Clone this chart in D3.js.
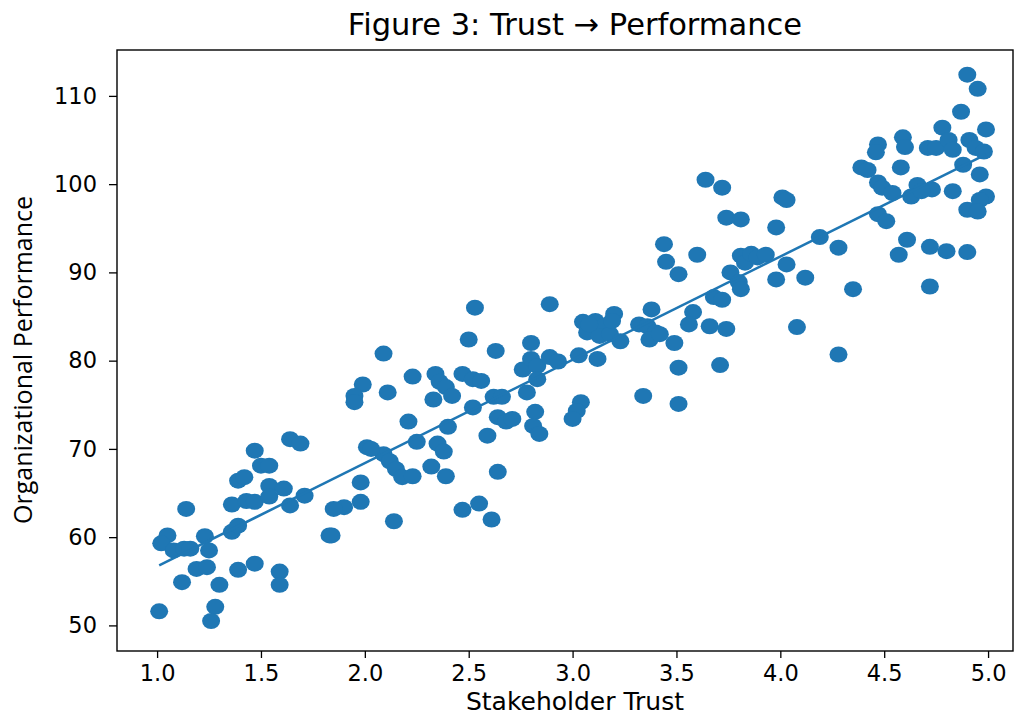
<!DOCTYPE html>
<html>
<head>
<meta charset="utf-8">
<script src="https://cdn.jsdelivr.net/npm/d3@7"></script>
<style>
  body { margin: 0; background: #fff; }
  svg text { font-family: "DejaVu Sans", sans-serif; fill: #000; }
</style>
</head>
<body>
<div id="chart"></div>
<script>
// stakeholder trust (x) and organizational performance (y)
var trust = [
  1.64, 1.69, 1.47, 1.50, 1.54, 1.39, 1.42, 1.14, 1.36, 1.43, 1.47, 1.54, 1.54, 1.61, 1.64, 1.71,
  1.05, 1.02, 1.08, 1.13, 1.16, 1.23, 1.25, 1.36, 1.39, 1.19, 1.24, 1.12, 1.30, 1.39, 1.47, 1.59,
  1.59, 1.01, 1.28, 1.26, 1.83,
  2.53, 2.89, 2.50, 2.63, 2.80, 2.09, 2.23, 2.34, 2.36, 2.39, 2.42, 2.47, 2.52, 2.56, 2.76, 2.80,
  2.83, 2.89, 2.83, 1.99, 1.95, 1.95, 2.11, 2.33, 2.52, 2.62, 2.66, 2.78, 2.21, 2.40, 2.64, 2.68,
  2.71, 2.82, 2.81, 2.84, 2.59, 2.25, 2.35, 2.38, 2.01, 2.09, 2.12, 2.15, 2.18, 2.23, 2.32, 2.39,
  2.64, 1.98, 1.98, 1.90, 1.85, 2.14, 2.47, 2.55, 2.61, 1.84, 2.03,
  3.74, 3.81, 3.44, 3.45, 3.60, 3.51, 3.81, 3.83, 3.86, 3.89, 3.93, 3.76, 3.80, 3.81, 3.68, 3.72,
  3.20, 3.05, 3.11, 3.15, 3.07, 3.13, 3.18, 3.23, 3.08, 3.19, 3.38, 3.32, 3.36, 3.40, 3.37, 3.42,
  3.58, 3.56, 3.66, 3.74, 3.49, 3.03, 3.12, 2.93, 3.51, 3.71, 3.34, 3.51, 3.04, 3.02, 3.00, 3.64,
  3.72,
  4.90, 4.95, 4.87, 4.78, 4.99, 4.47, 4.46, 4.59, 4.60, 4.71, 4.75, 4.81, 4.83, 4.91, 4.94, 4.98,
  4.39, 4.42, 4.58, 4.88, 4.96, 4.47, 4.49, 4.54, 4.66, 4.63, 4.73, 4.68, 4.83, 4.99, 4.96, 4.90,
  4.95, 4.01, 4.03, 3.98, 4.19, 4.28, 4.47, 4.51, 4.61, 4.57, 4.72, 4.80, 4.90, 4.03, 3.98, 4.12,
  4.35, 4.72, 4.08, 4.28
];
var performance = [
  71.1, 70.6, 69.8, 68.1, 68.1, 66.4, 66.8, 63.2, 63.7, 64.1, 64.0, 65.8, 64.6, 65.5, 63.6, 64.7,
  60.2, 59.3, 58.5, 58.7, 58.7, 60.1, 58.5, 60.6, 61.3, 56.4, 56.6, 54.9, 54.6, 56.3, 57.0, 56.1,
  54.6, 51.6, 52.1, 50.5, 60.2,
  86.0, 86.4, 82.4, 81.1, 82.0, 80.8, 78.2, 78.5, 77.6, 77.0, 76.0, 78.5, 77.9, 77.7, 79.0, 80.2,
  79.4, 80.4, 77.9, 77.3, 76.0, 75.3, 76.4, 75.6, 74.7, 75.9, 75.9, 76.4, 73.1, 72.5, 73.6, 73.1,
  73.4, 74.2, 72.6, 71.7, 71.5, 70.8, 70.6, 69.7, 70.2, 69.4, 68.6, 67.7, 66.8, 66.9, 68.0, 66.9,
  67.4, 66.2, 64.0, 63.4, 63.2, 61.8, 63.1, 63.8, 62.0, 60.2, 70.0,
  96.2, 96.0, 93.2, 91.2, 92.0, 89.8, 91.9, 91.1, 92.1, 91.7, 92.0, 90.0, 88.9, 88.1, 87.2, 86.9,
  85.3, 84.4, 84.5, 83.9, 83.2, 82.8, 83.0, 82.2, 84.1, 84.5, 85.8, 84.1, 83.9, 83.2, 82.4, 83.0,
  85.5, 84.1, 83.9, 83.6, 82.0, 80.6, 80.2, 79.9, 79.2, 79.5, 76.0, 75.1, 75.3, 74.3, 73.4, 100.5,
  99.6,
  112.4, 110.8, 108.2, 106.4, 106.2, 104.5, 103.6, 105.3, 104.2, 104.1, 104.1, 105.0, 103.9, 105.0, 104.1, 103.7,
  101.9, 101.6, 101.9, 102.2, 101.1, 100.2, 99.6, 99.0, 99.9, 98.6, 99.4, 99.2, 99.2, 98.6, 98.2, 97.1,
  96.9, 98.5, 98.2, 95.1, 94.0, 92.8, 96.6, 95.8, 93.7, 92.0, 92.9, 92.4, 92.3, 90.9, 89.2, 89.4,
  88.1, 88.4, 83.8, 80.7
];
var xTicks = [1.0, 1.5, 2.0, 2.5, 3.0, 3.5, 4.0, 4.5, 5.0];
var yTicks = [50, 60, 70, 80, 90, 100, 110];

var points = trust.map(function(t, i) { return {x: t, y: performance[i]}; });

var width = 1027, height = 718;
var margin = {top: 50, right: 14, bottom: 67, left: 117};
var innerW = width - margin.left - margin.right,
    innerH = height - margin.top - margin.bottom;

var svg = d3.select("#chart").append("svg")
    .attr("width", width)
    .attr("height", height);

var g = svg.append("g")
    .attr("transform", "translate(" + margin.left + "," + margin.top + ")");

var xScale = d3.scaleLinear().domain([0.807, 5.12]).range([0, innerW]);
var yScale = d3.scaleLinear().domain([47.1, 115.2]).range([innerH, 0]);

// points
g.selectAll(".dot")
    .data(points)
    .enter()
    .append("ellipse")
    .attr("class", "dot")
    .attr("cx", function(d) { return xScale(d.x); })
    .attr("cy", function(d) { return yScale(d.y); })
    .attr("rx", 9)
    .attr("ry", 8)
    .style("fill", "#1f77b4");

// least squares fit, drawn from min to max trust
var mx = d3.mean(trust), my = d3.mean(performance);
var sxy = d3.sum(points, function(d) { return (d.x - mx) * (d.y - my); });
var sxx = d3.sum(points, function(d) { return (d.x - mx) * (d.x - mx); });
var slope = sxy / sxx, intercept = my - slope * mx;
var xExt = d3.extent(trust);
var fit = xExt.map(function(v) { return {x: v, y: intercept + slope * v}; });

g.append("path")
    .datum(fit)
    .attr("d", d3.line()
        .x(function(d) { return xScale(d.x); })
        .y(function(d) { return yScale(d.y); }))
    .style("fill", "none")
    .style("stroke", "#1f77b4")
    .style("stroke-width", 2.5);

// axes
var xAxis = g.append("g")
    .attr("transform", "translate(0," + innerH + ")")
    .call(d3.axisBottom(xScale).tickValues(xTicks).tickFormat(d3.format(".1f")).tickSize(7).tickPadding(7));
var yAxis = g.append("g")
    .call(d3.axisLeft(yScale).tickValues(yTicks).tickSize(8).tickPadding(12));

[xAxis, yAxis].forEach(function(ax) {
    ax.select(".domain").remove();
    ax.selectAll("text").style("font-size", "22.5px").style("font-family", "DejaVu Sans, sans-serif");
    ax.selectAll("line").style("stroke", "#000").style("stroke-width", 1.3);
});

// frame
g.append("rect")
    .attr("width", innerW)
    .attr("height", innerH)
    .style("fill", "none")
    .style("stroke", "#000")
    .style("stroke-width", 1.4);

// labels
svg.append("text")
    .attr("x", 575)
    .attr("y", 35)
    .attr("text-anchor", "middle")
    .style("font-size", "30.5px")
    .text("Figure 3: Trust \u2192 Performance");

svg.append("text")
    .attr("x", 575)
    .attr("y", 710)
    .attr("text-anchor", "middle")
    .style("font-size", "25px")
    .text("Stakeholder Trust");

svg.append("text")
    .attr("transform", "translate(32,360) rotate(-90)")
    .attr("text-anchor", "middle")
    .style("font-family", "'Open Sans', sans-serif")
    .style("font-size", "25px")
    .text("Organizational Performance");
</script>
</body>
</html>
